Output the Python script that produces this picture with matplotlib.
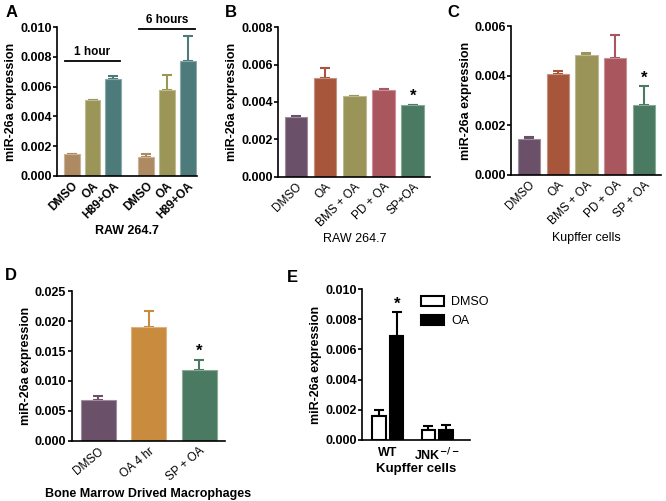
import numpy as np
import matplotlib
matplotlib.use('Agg')
import matplotlib.pyplot as plt
import matplotlib.colors as mcolors

plt.rcParams['font.family'] = ['Liberation Sans', 'DejaVu Sans']
plt.rcParams['font.weight'] = 'bold'

# panel A
a_labels = ['DMSO', 'OA', 'H89+OA', 'DMSO', 'OA', 'H89+OA']
a_vals = [0.00145, 0.0051, 0.0065, 0.0013, 0.0058, 0.0077]
a_err = [0.00005, 0.00003, 0.0002, 0.0002, 0.001, 0.0017]
a_cols = ['#AE8A62', '#9B9557', '#4D7B7B', '#AE8A62', '#9B9557', '#4D7B7B']

# panel B
b_labels = ['DMSO', 'OA', 'BMS + OA', 'PD + OA', 'SP+OA']
b_vals = [0.00322, 0.0053, 0.0043, 0.00465, 0.00382]
b_err = [0.00003, 0.0005, 0.00002, 0.00002, 0.00003]

# panel C
c_labels = ['DMSO', 'OA', 'BMS + OA', 'PD + OA', 'SP + OA']
c_vals = [0.00143, 0.00405, 0.00485, 0.0047, 0.0028]
c_err = [0.0001, 0.00012, 0.00005, 0.00095, 0.00078]

five_cols = ['#6A5068', '#A8563B', '#9A9458', '#A9565F', '#4B7A62']

# panel D
d_labels = ['DMSO', 'OA 4 hr', 'SP + OA']
d_vals = [0.0068, 0.019, 0.0119]
d_err = [0.0007, 0.0027, 0.0016]
d_cols = ['#6A5068', '#C98B3E', '#4B7A62']

# panel E
e_groups = ['WT', 'JNK$^{-/-}$']
e_dmso = [0.0016, 0.00065]
e_dmso_err = [0.0004, 0.0003]
e_oa = [0.0069, 0.00068]
e_oa_err = [0.0016, 0.0003]

fig = plt.figure(figsize=(6.66, 5.01), dpi=100)


def lighter(c, f=0.35):
    r, g, b = mcolors.to_rgb(c)
    return (r + (1 - r) * f, g + (1 - g) * f, b + (1 - b) * f)


def style(ax, ymax, step, fmt):
    ax.spines['top'].set_visible(False)
    ax.spines['right'].set_visible(False)
    ax.spines['left'].set_linewidth(1.2)
    ax.spines['bottom'].set_linewidth(1.2)
    ax.set_ylim(0, ymax)
    ax.set_yticks(np.arange(0, ymax + step / 2, step))
    ax.set_yticklabels([fmt % v for v in np.arange(0, ymax + step / 2, step)])
    ax.tick_params(axis='y', length=3, width=1.2, labelsize=9, pad=1)
    ax.tick_params(axis='x', length=0, labelsize=8.5, pad=3)
    ax.set_ylabel('miR-26a expression', fontsize=9, fontweight='bold', labelpad=2)


def bars(ax, x, vals, err, cols, w=0.77):
    for xi, v, e, c in zip(x, vals, err, cols):
        ax.bar(xi, v, w, color=c, edgecolor=lighter(c), linewidth=0.8, zorder=2)
        ax.errorbar(xi, v, yerr=[[0], [e]], color=c, capsize=3.5, elinewidth=1.5,
                    capthick=1.5, zorder=1)


# A
axA = fig.add_axes([0.086, 0.649, 0.21, 0.297])
xa = [0, 1, 2, 3.6, 4.6, 5.6]
bars(axA, xa, a_vals, a_err, a_cols)
axA.set_xlim(-0.7, 6.05)
style(axA, 0.010, 0.002, '%.3f')
axA.set_xticks(xa)
axA.set_xticklabels(a_labels, rotation=45, ha='right', rotation_mode='anchor')
axA.set_xlabel('RAW 264.7', fontsize=9, fontweight='bold', labelpad=3)
axA.plot([-0.35, 2.35], [0.0077, 0.0077], color='black', lw=1.3, clip_on=False)
axA.text(1, 0.0079, '1 hour', ha='center', va='bottom', fontsize=8.5)
axA.plot([3.25, 5.95], [0.00987, 0.00987], color='black', lw=1.3, clip_on=False)
axA.text(4.6, 0.0101, '6 hours', ha='center', va='bottom', fontsize=8.5)

# B
axB = fig.add_axes([0.418, 0.647, 0.228, 0.299])
xb = np.arange(len(b_labels))
bars(axB, xb, b_vals, b_err, five_cols)
axB.set_xlim(-0.6, 4.6)
style(axB, 0.008, 0.002, '%.3f')
axB.set_xticks(xb)
axB.set_xticklabels(b_labels, rotation=45, ha='right', rotation_mode='anchor',
                    fontweight='normal')
axB.set_xlabel('RAW 264.7', fontsize=9, fontweight='normal', labelpad=3)
axB.text(4, 0.0039, '*', ha='center', va='bottom', fontsize=12)

# C
axC = fig.add_axes([0.768, 0.651, 0.225, 0.297])
bars(axC, xb, c_vals, c_err, five_cols)
axC.set_xlim(-0.6, 4.6)
style(axC, 0.006, 0.002, '%.3f')
axC.set_xticks(xb)
axC.set_xticklabels(c_labels, rotation=45, ha='right', rotation_mode='anchor',
                    fontweight='normal')
axC.set_xlabel('Kupffer cells', fontsize=9, fontweight='normal', labelpad=4)
axC.text(4, 0.0036, '*', ha='center', va='bottom', fontsize=12)

# D
axD = fig.add_axes([0.108, 0.120, 0.23, 0.299])
xd = np.arange(len(d_labels))
bars(axD, xd, d_vals, d_err, d_cols, w=0.69)
axD.set_xlim(-0.52, 2.51)
style(axD, 0.025, 0.005, '%.3f')
axD.set_xticks(xd)
axD.set_xticklabels(d_labels, rotation=40, ha='right', rotation_mode='anchor',
                    fontweight='normal')
axD.set_xlabel('Bone Marrow Drived Macrophages', fontsize=9, fontweight='bold', labelpad=3)
axD.text(2, 0.0137, '*', ha='center', va='bottom', fontsize=12)

# E
axE = fig.add_axes([0.544, 0.122, 0.162, 0.301])
xe = np.arange(len(e_groups))
off = 0.18
w = 0.27
axE.bar(xe - off, e_dmso, w, color='white', edgecolor='black', linewidth=1.5,
        label='DMSO', zorder=2)
axE.errorbar(xe - off, e_dmso, yerr=[[0, 0], e_dmso_err], fmt='none', ecolor='black',
             capsize=3.5, elinewidth=1.5, capthick=1.5, zorder=1)
axE.bar(xe + off, e_oa, w, color='black', edgecolor='black', linewidth=1.5,
        label='OA', zorder=2)
axE.errorbar(xe + off, e_oa, yerr=[[0, 0], e_oa_err], fmt='none', ecolor='black',
             capsize=3.5, elinewidth=1.5, capthick=1.5, zorder=1)
axE.set_xlim(-0.52, 1.67)
style(axE, 0.010, 0.002, '%.3f')
axE.set_xticks(xe)
axE.set_xticklabels(e_groups, fontsize=9)
axE.tick_params(axis='x', pad=5)
axE.set_xlabel('Kupffer cells', fontsize=9.5, fontweight='bold', labelpad=0)
axE.text(off, 0.0085, '*', ha='center', va='bottom', fontsize=12)
leg = axE.legend(loc='upper left', bbox_to_anchor=(0.44, 1.03), frameon=False,
                 fontsize=9, handlelength=1.8, handleheight=0.9, labelspacing=0.5,
                 handletextpad=0.6)
for t in leg.get_texts():
    t.set_fontweight('normal')

# panel letters
for lab, x, y in [('A', 0.008, 0.975), ('B', 0.337, 0.975), ('C', 0.672, 0.975),
                  ('D', 0.008, 0.45), ('E', 0.43, 0.447)]:
    fig.text(x, y, lab, fontsize=12, fontweight='bold', va='center')

fig.savefig('out.png', dpi=100)
